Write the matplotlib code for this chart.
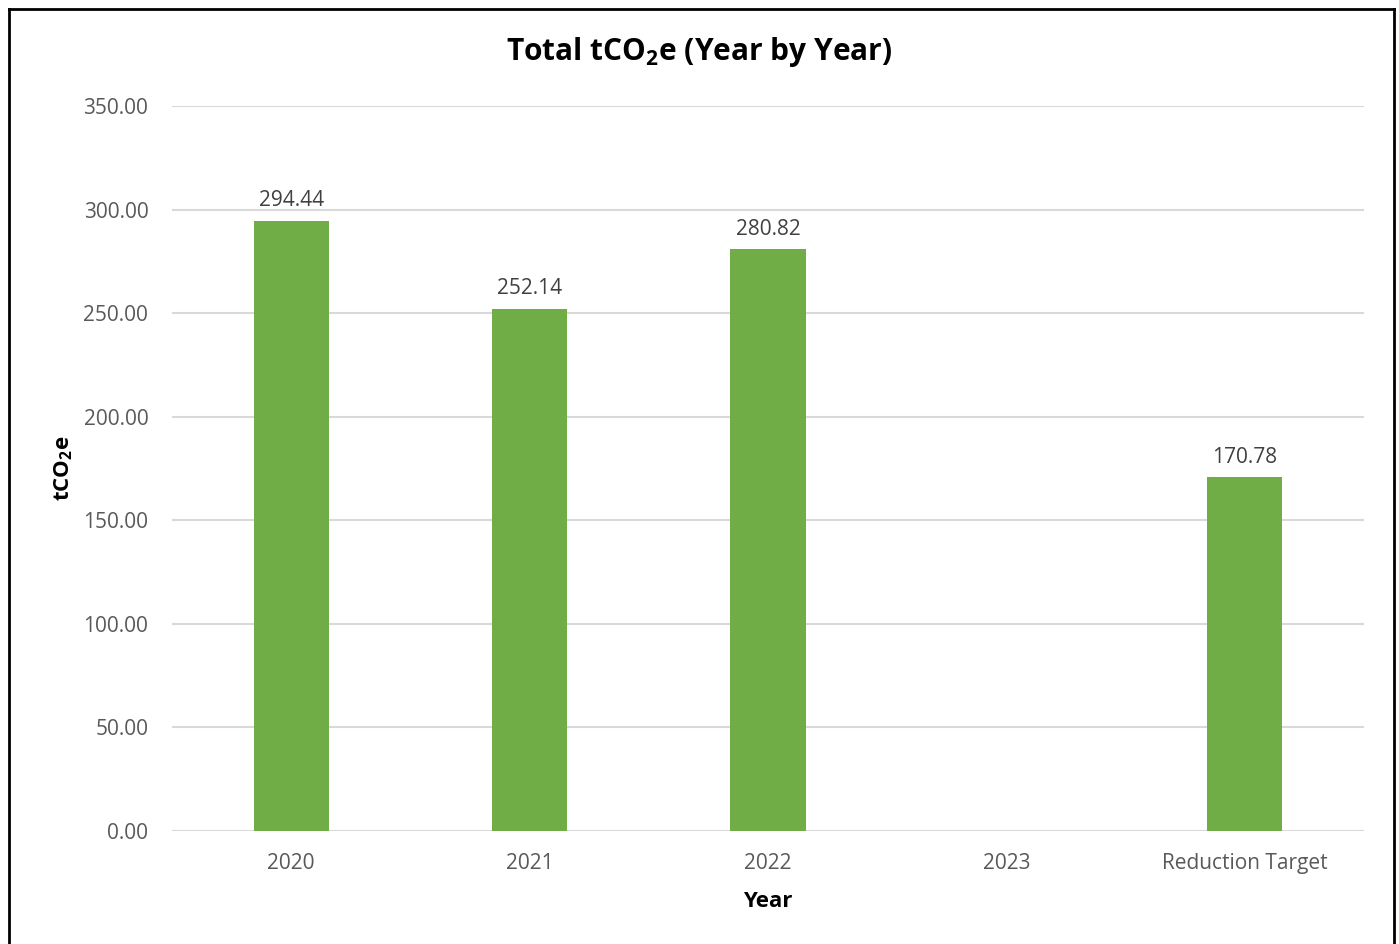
import numpy as np
import matplotlib.pyplot as plt
from matplotlib.lines import Line2D

categories = ['2020', '2021', '2022', '2023', 'Reduction Target']
values = [294.44, 252.14, 280.82, np.nan, 170.78]

plt.rcParams['font.family'] = ['Open Sans', 'DejaVu Sans']
plt.rcParams['mathtext.fontset'] = 'custom'
plt.rcParams['mathtext.rm'] = 'Open Sans:bold'
plt.rcParams['mathtext.it'] = 'Open Sans:bold'
plt.rcParams['mathtext.bf'] = 'Open Sans:bold'

fig = plt.figure(figsize=(13.99, 9.44), dpi=100)
ax = fig.add_axes([0.1229, 0.1197, 0.975 - 0.1229, 0.8877 - 0.1197])

x = np.arange(len(categories))
ax.bar(x, values, width=0.315, color='#70AD47', zorder=3)

for xi, v in zip(x, values):
    if not np.isnan(v):
        ax.annotate(f'{v:.2f}', (xi, v), xytext=(0, 7), textcoords='offset points',
                    ha='center', va='bottom', fontsize=15, color='#404040')

ax.set_xlim(-0.5, len(categories) - 0.5)
ax.set_ylim(0, 350)
ax.set_yticks(np.arange(0, 351, 50))
ax.set_yticklabels([f'{t:.2f}' for t in np.arange(0, 351, 50)])
ax.set_xticks(x)
ax.set_xticklabels(categories)
ax.tick_params(axis='both', length=0, labelsize=15, labelcolor='#595959')
ax.tick_params(axis='y', pad=17)
ax.tick_params(axis='x', pad=16)
ax.grid(axis='y', color='#D9D9D9', linewidth=1.5, zorder=0)
for s in ax.spines.values():
    s.set_visible(False)

fig.text(0.5, 1 - 52 / 944, 'Total tCO$_2$e (Year by Year)', fontsize=21.5,
         fontweight='bold', ha='center', va='center')
ax.set_xlabel('Year', fontsize=16, fontweight='bold', labelpad=12)
ax.set_ylabel('tCO$_2$e', fontsize=16, fontweight='bold', labelpad=6)

# outer frame
fw, fh = 1399, 944
l, r, t = 8.5 / fw, 1393.5 / fw, 1 - 8.5 / fh
fig.add_artist(Line2D([l, l], [-0.1, t], color='black', lw=2, transform=fig.transFigure))
fig.add_artist(Line2D([r, r], [-0.1, t], color='black', lw=2, transform=fig.transFigure))
fig.add_artist(Line2D([l, r], [t, t], color='black', lw=2, transform=fig.transFigure))

fig.savefig('out.png', dpi=100)
